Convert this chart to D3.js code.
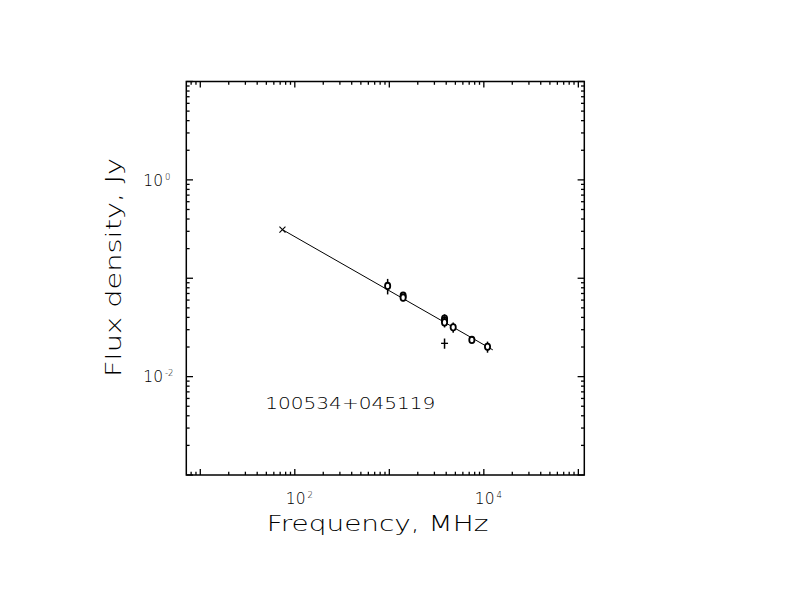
<!DOCTYPE html>
<html>
<head>
<meta charset="utf-8">
<script src="https://cdn.jsdelivr.net/npm/d3@7"></script>
<style>
  body { margin: 0; background: #fff; }
  text { font-family: "DejaVu Sans", sans-serif; font-weight: 200; fill: #000; }
</style>
</head>
<body>
<svg id="svg" width="792" height="612"></svg>
<script>
// 測定値 (MHz, Jy)
const circleFreq = [960, 1400, 1400, 3840, 3840, 3840, 4740, 7470, 10940];
const circleFlux = [0.0835, 0.0665, 0.0635, 0.039, 0.0372, 0.0356, 0.0317, 0.0236, 0.0201];
const circleErr = [0.015, 0.005, 0.005, 0.004, 0.004, 0.004, 0.0038, 0, 0.0026];
// 十字の点
const plusFreq = [3840];
const plusFlux = [0.0218];
const plusErr = [0.0026];
// ×印 (74 MHz)
const crossFreq = [74];
const crossFlux = [0.312];
// フィット直線
const fitFreq = [74, 12450];
const fitFlux = [0.312, 0.0187];
// 目盛ラベル
const xTickExp = [2, 4];
const yTickExp = [0, -2];
const sourceName = "100534+045119";

const svg = d3.select("#svg");
const plotLeft = 186.3, plotRight = 584.3, plotTop = 81.5, plotBottom = 475;

const x = d3.scaleLog().domain([Math.pow(10, 0.852), Math.pow(10, 5.063)]).range([plotLeft, plotRight]);
const y = d3.scaleLog().domain([1e-3, 10]).range([plotBottom, plotTop]);

//目盛の生成
function logTicks(lo, hi) {
  const out = [];
  for (let e = Math.floor(Math.log10(lo)); e <= Math.ceil(Math.log10(hi)); e++) {
    for (let m = 1; m < 10; m++) {
      const v = m * Math.pow(10, e);
      if (v >= lo * 0.999 && v <= hi * 1.001) out.push({ v: v, major: m == 1 });
    }
  }
  return out;
}

const g = svg.append("g").attr("stroke", "black").attr("fill", "none");

// 枠
g.append("rect")
  .attr("x", plotLeft).attr("y", plotTop)
  .attr("width", plotRight - plotLeft).attr("height", plotBottom - plotTop)
  .attr("stroke-width", 1.5);

// x 目盛 (上下とも内向き)
logTicks(x.domain()[0], x.domain()[1]).forEach((t) => {
  const len = t.major ? 6 : 3.3;
  const px = x(t.v);
  g.append("line").attr("x1", px).attr("x2", px).attr("y1", plotBottom).attr("y2", plotBottom - len).attr("stroke-width", 1.3);
  g.append("line").attr("x1", px).attr("x2", px).attr("y1", plotTop).attr("y2", plotTop + len).attr("stroke-width", 1.3);
});

// y 目盛
logTicks(y.domain()[0], y.domain()[1]).forEach((t) => {
  const len = t.major ? 6.7 : 3.3;
  const py = y(t.v);
  g.append("line").attr("y1", py).attr("y2", py).attr("x1", plotLeft).attr("x2", plotLeft + len).attr("stroke-width", 1.3);
  g.append("line").attr("y1", py).attr("y2", py).attr("x1", plotRight).attr("x2", plotRight - len).attr("stroke-width", 1.3);
});

// x 目盛ラベル
xTickExp.forEach((e) => {
  const t = svg.append("text")
    .attr("x", x(Math.pow(10, e)) - 9)
    .attr("y", 504)
    .attr("font-size", 15.5);
  t.append("tspan").text("10");
  t.append("tspan").attr("dx", 2).attr("dy", -6).attr("font-size", 8.5).text(e);
});

// y 目盛ラベル
yTickExp.forEach((e) => {
  const t = svg.append("text")
    .attr("x", 143.3)
    .attr("y", y(Math.pow(10, e)) + 5.7)
    .attr("font-size", 15.5);
  t.append("tspan").text("10");
  t.append("tspan").attr("dx", 2).attr("dy", -6).attr("font-size", 8.5)
    .text(e < 0 ? "-" + Math.abs(e) : e);
});

// 軸タイトル
svg.append("text")
  .attr("x", 266.7).attr("y", 530.7)
  .attr("font-size", 22)
  .attr("textLength", 221.6).attr("lengthAdjust", "spacingAndGlyphs")
  .text("Frequency, MHz");

svg.append("text")
  .attr("transform", "translate(120.5,377) rotate(-90)")
  .attr("font-size", 22)
  .attr("textLength", 219).attr("lengthAdjust", "spacingAndGlyphs")
  .text("Flux density, Jy");

// 天体名
svg.append("text")
  .attr("x", 265.3).attr("y", 409)
  .attr("font-size", 16)
  .attr("textLength", 170).attr("lengthAdjust", "spacingAndGlyphs")
  .text(sourceName);

// フィット直線
const line = d3.line().x((d) => x(d[0])).y((d) => y(d[1]));
g.append("path")
  .attr("d", line(fitFreq.map((f, i) => [f, fitFlux[i]])))
  .attr("stroke-width", 1);

// 誤差棒
function errBar(f, s, e) {
  if (e <= 0) return;
  g.append("line")
    .attr("x1", x(f)).attr("x2", x(f))
    .attr("y1", y(s + e)).attr("y2", y(s - e))
    .attr("stroke-width", 1.5);
}

circleFreq.forEach((f, i) => {
  errBar(f, circleFlux[i], circleErr[i]);
  g.append("ellipse")
    .attr("cx", x(f)).attr("cy", y(circleFlux[i]))
    .attr("rx", 2.6).attr("ry", 3.2)
    .attr("fill", "white")
    .attr("stroke-width", 1.8);
});

plusFreq.forEach((f, i) => {
  errBar(f, plusFlux[i], plusErr[i]);
  const px = x(f), py = y(plusFlux[i]);
  g.append("line").attr("x1", px - 3.5).attr("x2", px + 3.5).attr("y1", py).attr("y2", py).attr("stroke-width", 1.3);
});

crossFreq.forEach((f, i) => {
  const px = x(f), py = y(crossFlux[i]);
  g.append("path")
    .attr("d", `M ${px - 3} ${py - 3} L ${px + 3} ${py + 3} M ${px - 3} ${py + 3} L ${px + 3} ${py - 3}`)
    .attr("stroke-width", 1.1);
});
</script>
</body>
</html>
